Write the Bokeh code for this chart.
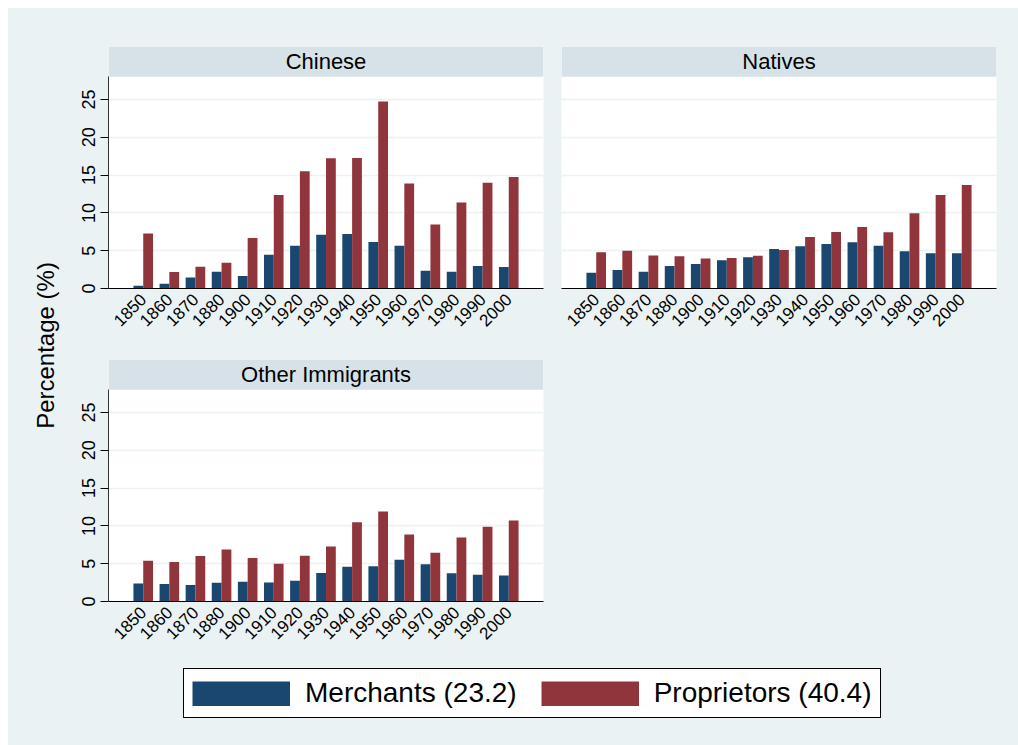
from math import pi
from bokeh.plotting import figure
from bokeh.models import (FactorRange, Range1d, FixedTicker, BoxAnnotation, Label,
                          Legend, LegendItem, ColumnDataSource)
from bokeh.layouts import row, column
from bokeh.transform import dodge
from bokeh.embed import file_html
from bokeh.resources import INLINE

# ---------------- data ----------------
years = ["1850", "1860", "1870", "1880", "1900", "1910", "1920", "1930",
         "1940", "1950", "1960", "1970", "1980", "1990", "2000"]

chinese_merchants = [0.35, 0.62, 1.46, 2.21, 1.64, 4.47, 5.66, 7.12, 7.21, 6.15, 5.66, 2.35, 2.21, 2.96, 2.83]
chinese_proprietors = [7.26, 2.17, 2.88, 3.41, 6.68, 12.35, 15.49, 17.21, 17.26, 24.73, 13.89, 8.45, 11.37, 13.98, 14.73]

natives_merchants = [2.08, 2.43, 2.21, 2.96, 3.23, 3.72, 4.12, 5.22, 5.58, 5.88, 6.11, 5.66, 4.91, 4.65, 4.65]
natives_proprietors = [4.78, 5.00, 4.38, 4.25, 3.98, 4.03, 4.34, 5.09, 6.81, 7.48, 8.14, 7.43, 9.96, 12.35, 13.67]

other_merchants = [2.39, 2.30, 2.17, 2.48, 2.61, 2.52, 2.74, 3.76, 4.60, 4.65, 5.53, 4.91, 3.72, 3.54, 3.45]
other_proprietors = [5.40, 5.22, 6.02, 6.86, 5.75, 5.00, 6.06, 7.26, 10.49, 11.90, 8.85, 6.46, 8.45, 9.87, 10.71]

panel_titles = ["Chinese", "Natives", "Other Immigrants"]
legend_labels = ["Merchants (23.2)", "Proprietors (40.4)"]
y_ticks = [0, 5, 10, 15, 20, 25]
y_title = "Percentage (%)"

# ---------------- style ----------------
BG = "#eaf2f3"
STRIP = "#d6e2e7"
GRID = "#eaf2f3"
NAVY = "#1a476f"
MAROON = "#90353b"
FONT = "Liberation Sans"


def make_panel(title, merch, prop, w, h, bl, br, bt, bb, show_y=True):
    p = figure(width=w, height=h,
               x_range=FactorRange(factors=years, range_padding=0.1107,
                                   range_padding_units="percent"),
               y_range=Range1d(0, 32),
               output_backend="svg", toolbar_location=None, title=None,
               y_axis_location="left" if show_y else None,
               min_border_left=bl, min_border_right=br,
               min_border_top=bt, min_border_bottom=bb)
    p.background_fill_color = "white"
    p.border_fill_color = BG
    p.outline_line_color = None
    p.xgrid.visible = False
    p.ygrid.ticker = FixedTicker(ticks=y_ticks[1:])
    p.ygrid.grid_line_color = GRID
    p.ygrid.grid_line_width = 1.5

    src = ColumnDataSource(dict(year=years, merch=merch, prop=prop))
    p.vbar(x=dodge("year", -0.1875, range=p.x_range), top="merch", width=0.375,
           source=src, fill_color=NAVY, line_color=None)
    p.vbar(x=dodge("year", 0.1875, range=p.x_range), top="prop", width=0.375,
           source=src, fill_color=MAROON, line_color=None)

    # header strip
    p.add_layout(BoxAnnotation(bottom=28, fill_color=STRIP, fill_alpha=1.0,
                               line_color=None, level="underlay"))
    p.add_layout(Label(x=len(years) / 2, y=30, text=title, text_align="center",
                       text_baseline="middle", text_font=FONT,
                       text_font_size="22px", text_color="black"))

    xa = p.xaxis[0]
    xa.axis_line_color = "black"
    xa.axis_line_width = 1.2
    xa.major_tick_line_color = None
    xa.major_tick_out = 0
    xa.major_label_orientation = pi / 4
    xa.major_label_standoff = 8
    xa.major_label_text_font = FONT
    xa.major_label_text_font_size = "17px"
    xa.major_label_text_color = "black"

    if show_y:
        ya = p.yaxis[0]
        ya.ticker = FixedTicker(ticks=y_ticks)
        ya.bounds = (0, 28)
        ya.axis_line_color = "#333333"
        ya.axis_line_width = 1
        ya.major_tick_out = 8
        ya.major_tick_in = 0
        ya.minor_tick_line_color = None
        ya.major_label_orientation = "vertical"
        ya.major_label_standoff = 6
        ya.major_label_text_font = FONT
        ya.major_label_text_font_size = "18px"
        ya.major_label_text_color = "black"
    return p


p1 = make_panel(panel_titles[0], chinese_merchants, chinese_proprietors,
                484, 337, 40, 9, 38, 57, True)
p2 = make_panel(panel_titles[1], natives_merchants, natives_proprietors,
                466, 337, 9, 22, 38, 57, False)
p3 = make_panel(panel_titles[2], other_merchants, other_proprietors,
                484, 310, 40, 9, 14, 54, True)


def blank(w, h, xr=(0, 1), yr=(0, 1)):
    f = figure(width=w, height=h, toolbar_location=None, output_backend="svg",
               x_axis_location=None, y_axis_location=None, title=None,
               x_range=Range1d(*xr), y_range=Range1d(*yr), min_border=0)
    f.outline_line_color = None
    f.background_fill_color = BG
    f.border_fill_color = BG
    f.grid.visible = False
    return f


empty = blank(466, 310)

ylab = blank(60, 647, (0, 60), (0, 647))
ylab.add_layout(Label(x=37, y=310, text=y_title, angle=pi / 2, text_align="center",
                      text_baseline="middle", text_font=FONT, text_font_size="24px",
                      text_color="black"))

leg = blank(1010, 90)
# legend swatch renderers: points kept outside the visible range
l1 = leg.line(x=[-5, -4], y=[-5, -5], line_color=NAVY, line_width=25)
l2 = leg.line(x=[-5, -4], y=[-5, -5], line_color=MAROON, line_width=25)
legend = Legend(items=[LegendItem(label=legend_labels[0], renderers=[l1]),
                       LegendItem(label=legend_labels[1], renderers=[l2])],
                orientation="horizontal", location=(175, 27),
                glyph_width=98, glyph_height=25, label_standoff=15, spacing=24,
                padding=8, margin=0, border_line_color="black", border_line_width=1,
                border_line_alpha=1.0,
                background_fill_color="white", background_fill_alpha=1.0,
                label_text_font=FONT, label_text_font_size="28px",
                label_text_color="black")
leg.add_layout(legend)

inner = column(row(p1, p2, styles={"background-color": BG}),
               row(p3, empty, styles={"background-color": BG}),
               styles={"background-color": BG})
layout = column(row(ylab, inner, styles={"background-color": BG}), leg,
                styles={"background-color": BG}, margin=(8, 0, 0, 8))

open("out.html", "w").write(file_html(layout, INLINE))
